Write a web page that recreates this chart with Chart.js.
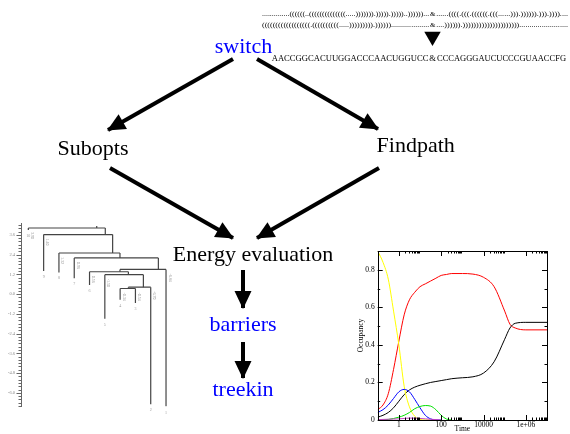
<!DOCTYPE html>
<html>
<head>
<meta charset="utf-8">
<script src="https://cdn.jsdelivr.net/npm/chart.js@4.4.1/dist/chart.umd.min.js"></script>
<style>
html, body { margin: 0; padding: 0; background: #fff; overflow: hidden; }
#wrap { position: relative; width: 570px; height: 434px; overflow: hidden; }
canvas { position: absolute; }
#main { left: 0; top: 0; }
#tree { left: 0; top: 215px; }
#occ { left: 340px; top: 240px; }
</style>
</head>
<body>
<div id="wrap">
  <canvas id="main" width="570" height="434"></canvas>
  <canvas id="tree" width="175" height="200"></canvas>
  <canvas id="occ" width="230" height="194"></canvas>
</div>
<script>
// ---- data ----
// pipeline stages (text) and which ones are programs (blue)
const stageNames = ['switch', 'Subopts', 'Findpath', 'Energy evaluation', 'barriers', 'treekin'];
const stageBlue = [true, false, false, false, true, true];

// sequence and the two structures, split at the cut point '&'
const sequence = ['AACCGGCACUUGGACCCAACUGGUCC', 'CCCAGGGAUCUCCCGUAACCFG'];
const structure1 = ['..............((((((..((((((((((((((.....))))))).))))).)))))..))))))...', '......((((.(((.((((((.(((......))).)))))).))).))))....'];
const structure2 = ['((((((((((((((((((.((((((((((.....))))))))).))))))...................', '....)))))).)))))))))))))))))))))........................'];

// occupancy vs time (treekin output)
const times = [0.1, 0.178, 0.316, 0.562, 1, 1.78, 3.16, 5.62, 10, 17.8, 31.6, 56.2, 100, 178, 316, 1000, 3162, 10000, 31623, 100000, 177828, 316228, 1000000, 10000000];
const occYellow = [0.9, 0.84, 0.75, 0.58, 0.4, 0.18, 0.07, 0.02, 0.003, 0, 0, null, null, null, null, null, null, null, null, null, null, null, null, null];
const occRed = [0.055, 0.08, 0.14, 0.27, 0.42, 0.56, 0.64, 0.68, 0.71, 0.725, 0.74, 0.755, 0.77, 0.775, 0.78, 0.78, 0.777, 0.76, 0.71, 0.58, 0.51, 0.49, 0.48, 0.48];
const occBlack = [0.015, 0.025, 0.04, 0.065, 0.1, 0.135, 0.16, 0.175, 0.185, 0.193, 0.2, 0.205, 0.21, 0.215, 0.22, 0.225, 0.23, 0.25, 0.31, 0.43, 0.49, 0.515, 0.52, 0.52];
const occBlue = [0.04, 0.055, 0.08, 0.115, 0.15, 0.163, 0.15, 0.11, 0.065, 0.025, 0.006, 0, 0, null, null, null, null, null, null, null, null, null, null, null];
const occGreen = [0, 0.001, 0.003, 0.008, 0.015, 0.025, 0.04, 0.06, 0.072, 0.077, 0.074, 0.055, 0.025, 0.005, 0, null, null, null, null, null, null, null, null, null];
const occViolet = [0.002, 0.003, 0.004, 0.005, 0.006, 0.008, 0.01, 0.01, 0.008, 0.006, 0.004, 0.002, 0, null, null, null, null, null, null, null, null, null, null, null];
const timeTicks = [1, 100, 10000, 1000000];
const timeTickLabels = ['1', '100', '10000', '1e+06'];
const occTicks = [0, 0.2, 0.4, 0.6, 0.8];

// barrier tree: leaf energies, then merges [left child, right child, saddle height, x on bar]
const leafEnergy = [3.9, 1.4, 1.32, 0.96, 0.56, -1.5, -0.34, -0.54, -6.7, -6.84];
const leafNames = ['10', '9', '8', '7', '6', '5', '4', '3', '2', '1'];
const merges = [
  [6, 7, 0.34, 6.54],
  [10, 8, 0.42, 7.52],
  [5, 11, 1.18, 6.54],
  [4, 12, 1.36, 5.99],
  [13, 9, 1.5, 8.5],
  [3, 14, 2.2, 5.99],
  [2, 15, 2.5, 5.51],
  [1, 16, 3.62, 5.03],
  [0, 17, 4.02, 4.47]
];
const energyTicks = [3.6, 2.4, 1.2, 0, -1.2, -2.4, -3.6, -4.8, -6.0];

// ---- layout ----
const SERIF = '"Liberation Serif", "DejaVu Serif", serif';
const stagePos = [[243.5, 52.5], [93, 155], [415.7, 151.7], [253, 261], [243, 331], [243, 396]];
const arrows = [
  [[233, 59], [108, 130]],
  [[257, 59], [378, 129]],
  [[110, 168], [233, 238]],
  [[379, 168], [257, 238]],
  [[243, 270], [243, 308]],
  [[243, 342], [243, 378]]
];

// ---- main diagram ----
function fitText(ctx, text, x0, x1, y) {
  const w = ctx.measureText(text).width;
  ctx.save();
  ctx.translate(x0, y);
  ctx.scale((x1 - x0) / w, 1);
  ctx.textAlign = 'left';
  ctx.fillText(text, 0, 0);
  ctx.restore();
}

const arrowHeads = {
  id: 'arrowHeads',
  afterDatasetsDraw(chart) {
    const ctx = chart.ctx;
    chart.data.datasets.forEach((ds, i) => {
      if (!ds.isArrow) return;
      const pts = chart.getDatasetMeta(i).data;
      const a = pts[0], b = pts[1];
      const ang = Math.atan2(b.y - a.y, b.x - a.x);
      const len = 17, half = 8.5;
      ctx.save();
      ctx.translate(b.x, b.y);
      ctx.rotate(ang);
      ctx.beginPath();
      ctx.moveTo(1, 0);
      ctx.lineTo(-len, -half);
      ctx.lineTo(-len, half);
      ctx.closePath();
      ctx.fillStyle = '#000';
      ctx.fill();
      ctx.restore();
    });
  }
};

const diagramText = {
  id: 'diagramText',
  afterDraw(chart) {
    const ctx = chart.ctx;
    const xs = chart.scales.x, ys = chart.scales.y;
    ctx.save();
    ctx.textBaseline = 'alphabetic';
    stageNames.forEach((name, i) => {
      ctx.font = '22px ' + SERIF;
      ctx.fillStyle = stageBlue[i] ? '#0000ff' : '#000';
      ctx.textAlign = 'center';
      ctx.fillText(name, xs.getPixelForValue(stagePos[i][0]), ys.getPixelForValue(stagePos[i][1]));
    });
    ctx.fillStyle = '#000';
    const amp = xs.getPixelForValue(432.7);
    // structures
    ctx.font = '7px ' + SERIF;
    [[structure1, 16], [structure2, 27]].forEach(([s, by]) => {
      const y = ys.getPixelForValue(by);
      fitText(ctx, s[0], xs.getPixelForValue(262), amp - 3.5, y);
      ctx.textAlign = 'center';
      ctx.fillText('&', amp, y);
      fitText(ctx, s[1], amp + 3.5, xs.getPixelForValue(568), y);
    });
    // sequence
    ctx.font = '8.6px ' + SERIF;
    const sy = ys.getPixelForValue(61);
    fitText(ctx, sequence[0], xs.getPixelForValue(271.7), amp - 4.3, sy);
    ctx.textAlign = 'center';
    ctx.fillText('&', amp, sy);
    fitText(ctx, sequence[1], amp + 4.3, xs.getPixelForValue(566), sy);
    ctx.restore();
  }
};

const arrowSets = arrows.map(a => ({
  isArrow: true,
  data: [{x: a[0][0], y: a[0][1]}, {x: a[1][0], y: a[1][1]}],
  showLine: true,
  borderColor: '#000',
  borderWidth: 4,
  borderCapStyle: 'butt',
  pointRadius: 0
}));

new Chart(document.getElementById('main'), {
  type: 'scatter',
  data: {
    datasets: arrowSets.concat([{
      // cut point marker above the '&'
      data: [{x: 432.5, y: 36.5}],
      pointStyle: 'triangle',
      rotation: 180,
      pointRadius: 9.5,
      backgroundColor: '#000',
      borderColor: '#000',
      borderWidth: 0
    }])
  },
  options: {
    responsive: false,
    animation: false,
    layout: { padding: 0, autoPadding: false },
    scales: {
      x: { type: 'linear', min: 0, max: 570, display: false },
      y: { type: 'linear', min: 0, max: 434, reverse: true, display: false }
    },
    plugins: { legend: { display: false }, tooltip: { enabled: false } }
  },
  plugins: [arrowHeads, diagramText]
});

// ---- barrier tree ----
const nodeX = leafEnergy.map((e, i) => i);
const nodeH = leafEnergy.slice();
const treeSegs = [];
merges.forEach(m => {
  const [l, r, h, x] = m;
  treeSegs.push([[nodeX[l], h], [nodeX[r], h]]);
  treeSegs.push([[nodeX[l], nodeH[l]], [nodeX[l], h]]);
  treeSegs.push([[nodeX[r], nodeH[r]], [nodeX[r], h]]);
  nodeX.push(x);
  nodeH.push(h);
});
const root = nodeX.length - 1;
treeSegs.push([[nodeX[root], nodeH[root]], [nodeX[root], nodeH[root] + 0.12]]);

const treeAxis = {
  id: 'treeAxis',
  afterDraw(chart) {
    const ctx = chart.ctx;
    const ys = chart.scales.y, xs = chart.scales.x;
    const left = chart.chartArea.left;
    ctx.save();
    ctx.strokeStyle = '#666';
    ctx.lineWidth = 1;
    ctx.beginPath();
    for (let v = -6.8; v <= 4.21; v += 0.2) {
      const y = Math.round(ys.getPixelForValue(v)) + 0.5;
      ctx.moveTo(left, y);
      ctx.lineTo(left - 2.5, y);
    }
    energyTicks.forEach(v => {
      const y = Math.round(ys.getPixelForValue(v)) + 0.5;
      ctx.moveTo(left, y);
      ctx.lineTo(left - 4.5, y);
    });
    ctx.stroke();
    // leaf labels and energies
    ctx.fillStyle = '#999';
    ctx.font = '4px ' + SERIF;
    ctx.textAlign = 'center';
    leafEnergy.forEach((e, i) => {
      const x = xs.getPixelForValue(i);
      ctx.fillText(leafNames[i], x, ys.getPixelForValue(e) + 7);
    });
    for (let i = 0; i < leafEnergy.length; i++) {
      const parent = merges.find(m => m[0] === i || m[1] === i);
      const x = xs.getPixelForValue(i);
      const y = ys.getPixelForValue(parent[2]) + 4;
      ctx.save();
      ctx.translate(x + 2.5, y);
      ctx.rotate(Math.PI / 2);
      ctx.textAlign = 'left';
      ctx.fillText(leafEnergy[i].toFixed(2), 0, 0);
      ctx.restore();
    }
    ctx.restore();
  }
};

new Chart(document.getElementById('tree'), {
  type: 'scatter',
  data: {
    datasets: treeSegs.map(s => ({
      data: [{x: s[0][0], y: s[0][1]}, {x: s[1][0], y: s[1][1]}],
      showLine: true,
      borderColor: '#444',
      borderWidth: 1.2,
      pointRadius: 0
    }))
  },
  options: {
    responsive: false,
    animation: false,
    layout: { padding: { top: 8, bottom: 7, right: 5, left: 0 }, autoPadding: false },
    scales: {
      x: { type: 'linear', min: -0.48, max: 9.26, display: false },
      y: {
        type: 'linear', min: -6.82, max: 4.28, position: 'left',
        afterBuildTicks: s => { s.ticks = energyTicks.map(v => ({ value: v })); },
        afterFit: s => { s.width = 21; },
        ticks: { callback: v => v.toFixed(1), font: { size: 4.5, family: SERIF }, color: '#888', padding: 6 },
        grid: { display: false, drawTicks: false },
        border: { display: true, color: '#666', width: 1 }
      }
    },
    plugins: { legend: { display: false }, tooltip: { enabled: false } }
  },
  plugins: [treeAxis]
});

// ---- occupancy plot ----
const occSeries = [
  { values: occViolet, color: '#c040c0' },
  { values: occGreen, color: '#00e000' },
  { values: occBlue, color: '#0000ff' },
  { values: occYellow, color: '#ffff00' },
  { values: occBlack, color: '#000000' },
  { values: occRed, color: '#ff0000' }
];

const occFrame = {
  id: 'occFrame',
  afterDraw(chart) {
    const ctx = chart.ctx;
    const a = chart.chartArea;
    const xs = chart.scales.x, ys = chart.scales.y;
    ctx.save();
    ctx.strokeStyle = '#000';
    ctx.lineWidth = 1;
    ctx.strokeRect(Math.round(a.left) + 0.5, Math.round(a.top) + 0.5, Math.round(a.right - a.left), Math.round(a.bottom - a.top));
    ctx.beginPath();
    const vtick = (x, len) => {
      x = Math.round(x) + 0.5;
      ctx.moveTo(x, a.bottom); ctx.lineTo(x, a.bottom - len);
      ctx.moveTo(x, a.top); ctx.lineTo(x, a.top + len);
    };
    const htick = (y, len) => {
      y = Math.round(y) + 0.5;
      ctx.moveTo(a.left, y); ctx.lineTo(a.left + len, y);
      ctx.moveTo(a.right, y); ctx.lineTo(a.right - len, y);
    };
    timeTicks.forEach(t => {
      vtick(xs.getPixelForValue(t), 5);
      for (let k = 2; k <= 9; k++) vtick(xs.getPixelForValue(t * k), 2.5);
    });
    occTicks.forEach(v => {
      htick(ys.getPixelForValue(v), 5);
      htick(ys.getPixelForValue(v + 0.1), 2.5);
    });
    ctx.stroke();
    ctx.restore();
  }
};

new Chart(document.getElementById('occ'), {
  type: 'line',
  data: {
    datasets: occSeries.map(s => ({
      data: times.map((t, i) => ({ x: t, y: s.values[i] })),
      borderColor: s.color,
      borderWidth: 1,
      pointRadius: 0,
      fill: false,
      cubicInterpolationMode: 'monotone'
    }))
  },
  options: {
    responsive: false,
    animation: false,
    layout: { padding: { top: 11, right: 23, left: 0, bottom: 0 }, autoPadding: false },
    scales: {
      x: {
        type: 'logarithmic', min: 0.1, max: 10000000,
        afterBuildTicks: s => { s.ticks = timeTicks.map(v => ({ value: v })); },
        afterFit: s => { s.height = 14; },
        ticks: {
          callback: (v, i) => timeTickLabels[i],
          font: { size: 7.5, family: SERIF }, color: '#000', padding: 1,
          maxRotation: 0, autoSkip: false
        },
        grid: { display: false, drawTicks: false },
        border: { display: false },
        title: { display: true, text: 'Time', font: { size: 7.5, family: SERIF }, color: '#000', padding: 0 }
      },
      y: {
        type: 'linear', min: 0, max: 0.9,
        afterBuildTicks: s => { s.ticks = occTicks.map(v => ({ value: v })); },
        afterFit: s => { s.width = 37.7; },
        ticks: {
          callback: v => (v === 0 ? '0' : String(Math.round(v * 10) / 10)),
          font: { size: 7.5, family: SERIF }, color: '#000', padding: 3
        },
        grid: { display: false, drawTicks: false },
        border: { display: false },
        title: { display: true, text: 'Occupancy', font: { size: 7.5, family: SERIF }, color: '#000', padding: { top: 17, bottom: 0 } }
      }
    },
    plugins: { legend: { display: false }, tooltip: { enabled: false } }
  },
  plugins: [occFrame]
});
</script>
</body>
</html>
